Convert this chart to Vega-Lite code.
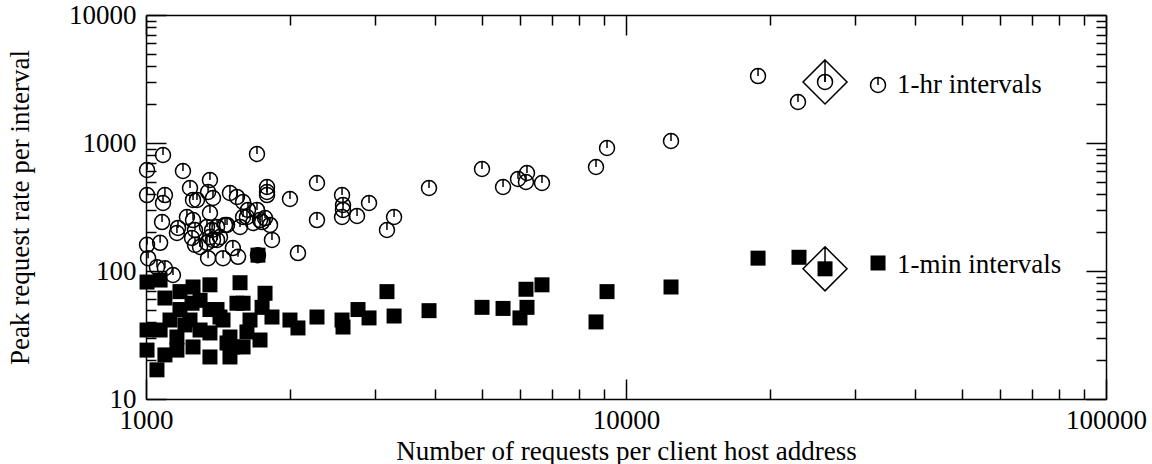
{
  "$schema": "https://vega.github.io/schema/vega-lite/v6.json",
  "width": 960,
  "height": 384,
  "autosize": "none",
  "padding": {"left": 146, "top": 15, "right": 46, "bottom": 65},
  "background": "white",
  "config": {
    "view": {"stroke": null},
    "font": "Liberation Serif",
    "axis": {
      "zindex": 1,
      "grid": false,
      "domainColor": "black",
      "domainWidth": 1.5,
      "tickColor": "black",
      "tickWidth": 1.5,
      "labelColor": "black",
      "labelFont": "Liberation Serif",
      "labelFontSize": 27,
      "labelFlush": false,
      "labelOverlap": false,
      "titleColor": "black",
      "titleFont": "Liberation Serif",
      "titleFontSize": 27,
      "titleFontWeight": "normal"
    }
  },
  "datasets": {
    "hr": [
      {"hosts": 1005, "rate": 615}, {"hosts": 1005, "rate": 392}, {"hosts": 1005, "rate": 160}, {"hosts": 1010, "rate": 126},
      {"hosts": 1054, "rate": 107}, {"hosts": 1095, "rate": 105}, {"hosts": 1138, "rate": 93}, {"hosts": 1070, "rate": 166},
      {"hosts": 1080, "rate": 241}, {"hosts": 1085, "rate": 340}, {"hosts": 1095, "rate": 392}, {"hosts": 1085, "rate": 806},
      {"hosts": 1194, "rate": 604}, {"hosts": 1235, "rate": 445}, {"hosts": 1277, "rate": 359}, {"hosts": 1253, "rate": 359},
      {"hosts": 1359, "rate": 514}, {"hosts": 1347, "rate": 414}, {"hosts": 1379, "rate": 372}, {"hosts": 1496, "rate": 407},
      {"hosts": 1547, "rate": 379}, {"hosts": 1593, "rate": 346}, {"hosts": 1359, "rate": 284}, {"hosts": 1217, "rate": 264},
      {"hosts": 1166, "rate": 217}, {"hosts": 1160, "rate": 198}, {"hosts": 1253, "rate": 250}, {"hosts": 1265, "rate": 209},
      {"hosts": 1247, "rate": 181}, {"hosts": 1265, "rate": 160}, {"hosts": 1340, "rate": 221}, {"hosts": 1373, "rate": 209},
      {"hosts": 1406, "rate": 221}, {"hosts": 1359, "rate": 184}, {"hosts": 1379, "rate": 175}, {"hosts": 1426, "rate": 184},
      {"hosts": 1461, "rate": 229}, {"hosts": 1340, "rate": 166}, {"hosts": 1296, "rate": 154}, {"hosts": 1347, "rate": 126},
      {"hosts": 1447, "rate": 126}, {"hosts": 1517, "rate": 151}, {"hosts": 1555, "rate": 129}, {"hosts": 1703, "rate": 820},
      {"hosts": 1787, "rate": 453}, {"hosts": 1787, "rate": 414}, {"hosts": 1787, "rate": 392}, {"hosts": 1995, "rate": 365},
      {"hosts": 2271, "rate": 487}, {"hosts": 2271, "rate": 250}, {"hosts": 1703, "rate": 300}, {"hosts": 1623, "rate": 264},
      {"hosts": 1728, "rate": 250}, {"hosts": 1770, "rate": 259}, {"hosts": 1813, "rate": 229}, {"hosts": 1671, "rate": 237},
      {"hosts": 1570, "rate": 221}, {"hosts": 1475, "rate": 229}, {"hosts": 1830, "rate": 175}, {"hosts": 2073, "rate": 138},
      {"hosts": 1711, "rate": 133}, {"hosts": 1593, "rate": 264}, {"hosts": 1631, "rate": 300}, {"hosts": 1745, "rate": 241},
      {"hosts": 1406, "rate": 175}, {"hosts": 2561, "rate": 392}, {"hosts": 2573, "rate": 328}, {"hosts": 2573, "rate": 300},
      {"hosts": 2561, "rate": 264}, {"hosts": 2752, "rate": 269}, {"hosts": 2915, "rate": 340}, {"hosts": 3287, "rate": 264},
      {"hosts": 3177, "rate": 209}, {"hosts": 3887, "rate": 445}, {"hosts": 5012, "rate": 626}, {"hosts": 5544, "rate": 453},
      {"hosts": 5957, "rate": 523}, {"hosts": 6219, "rate": 583}, {"hosts": 6189, "rate": 496}, {"hosts": 6683, "rate": 487},
      {"hosts": 8660, "rate": 649}, {"hosts": 9130, "rate": 914}, {"hosts": 12410, "rate": 1037}, {"hosts": 18840, "rate": 3334},
      {"hosts": 22820, "rate": 2090}, {"hosts": 25980, "rate": 3000}
    ],
    "min": [
      {"hosts": 1005, "rate": 82}, {"hosts": 1070, "rate": 85}, {"hosts": 1095, "rate": 61.5}, {"hosts": 1253, "rate": 75},
      {"hosts": 1359, "rate": 78}, {"hosts": 1570, "rate": 81}, {"hosts": 1177, "rate": 69}, {"hosts": 1005, "rate": 34.6},
      {"hosts": 1005, "rate": 24.1}, {"hosts": 1054, "rate": 16.9}, {"hosts": 1095, "rate": 22.1}, {"hosts": 1160, "rate": 24.1},
      {"hosts": 1070, "rate": 34.6}, {"hosts": 1122, "rate": 41.4}, {"hosts": 1177, "rate": 50}, {"hosts": 1235, "rate": 41.4},
      {"hosts": 1253, "rate": 25.5}, {"hosts": 1359, "rate": 50}, {"hosts": 1359, "rate": 32.8}, {"hosts": 1359, "rate": 21.3},
      {"hosts": 1496, "rate": 21.3}, {"hosts": 1447, "rate": 41.4}, {"hosts": 1496, "rate": 30.5}, {"hosts": 1517, "rate": 25.5},
      {"hosts": 1406, "rate": 50}, {"hosts": 1547, "rate": 56}, {"hosts": 1160, "rate": 30.5}, {"hosts": 1247, "rate": 56},
      {"hosts": 1770, "rate": 67}, {"hosts": 1593, "rate": 56}, {"hosts": 1745, "rate": 52}, {"hosts": 1830, "rate": 43.7},
      {"hosts": 1995, "rate": 41.4}, {"hosts": 2073, "rate": 35.9}, {"hosts": 2271, "rate": 43.7}, {"hosts": 1623, "rate": 33.4},
      {"hosts": 1728, "rate": 28.9}, {"hosts": 1593, "rate": 25.5}, {"hosts": 1475, "rate": 27.4}, {"hosts": 1426, "rate": 43.7},
      {"hosts": 1711, "rate": 133}, {"hosts": 2561, "rate": 41.4}, {"hosts": 2573, "rate": 36.5}, {"hosts": 2765, "rate": 50},
      {"hosts": 2915, "rate": 43}, {"hosts": 3287, "rate": 44.5}, {"hosts": 3177, "rate": 69}, {"hosts": 3887, "rate": 49},
      {"hosts": 5012, "rate": 52}, {"hosts": 5544, "rate": 51}, {"hosts": 6189, "rate": 72}, {"hosts": 6219, "rate": 52},
      {"hosts": 6013, "rate": 43}, {"hosts": 6683, "rate": 78}, {"hosts": 9130, "rate": 69}, {"hosts": 8660, "rate": 40},
      {"hosts": 12410, "rate": 75}, {"hosts": 18840, "rate": 126}, {"hosts": 22930, "rate": 128}, {"hosts": 25980, "rate": 104},
      {"hosts": 1296, "rate": 34.6}, {"hosts": 1206, "rate": 37.9}, {"hosts": 1647, "rate": 41.4}, {"hosts": 1296, "rate": 59}
    ],
    "hi": [
      {"hosts": 25980, "rate": 3000}, {"hosts": 25980, "rate": 104}
    ],
    "leg": [
      {"hosts": 33500, "rate": 2838, "textpos": 36700, "textrate": 2838, "series": "hr", "label": "1-hr intervals"},
      {"hosts": 33500, "rate": 115.5, "textpos": 36700, "textrate": 112, "series": "min", "label": "1-min intervals"}
    ]
  },
  "resolve": {"axis": {"x": "independent", "y": "independent"}},
  "layer": [
    {
      "data": {"name": "hr"},
      "mark": {"type": "point", "shape": "M-1,0A1,1,0,1,1,1,0A1,1,0,1,1,-1,0M0,-1L0,0", "filled": false, "stroke": "black", "strokeWidth": 1.5, "size": 225, "opacity": 1},
      "encoding": {
        "x": {"field": "hosts", "type": "quantitative", "scale": {"type": "log", "domain": [1000, 100000], "nice": false},
          "axis": {"orient": "bottom", "title": "Number of requests per client host address",
            "values": [1000, 2000, 3000, 4000, 5000, 6000, 7000, 8000, 9000, 10000, 20000, 30000, 40000, 50000, 60000, 70000, 80000, 90000, 100000],
            "format": "d",
            "labelExpr": "indexof([1000, 10000, 100000], datum.value) >= 0 ? datum.label : ''",
            "tickSize": {"condition": {"test": "indexof([1000, 10000, 100000], datum.value) >= 0", "value": -20}, "value": -10},
            "labelPadding": 28, "titleY": 60, "titleBaseline": "alphabetic"}},
        "y": {"field": "rate", "type": "quantitative", "scale": {"type": "log", "domain": [10, 10000], "nice": false},
          "axis": {"orient": "left", "title": "Peak request rate per interval",
            "values": [10, 20, 30, 40, 50, 60, 70, 80, 90, 100, 200, 300, 400, 500, 600, 700, 800, 900, 1000, 2000, 3000, 4000, 5000, 6000, 7000, 8000, 9000, 10000],
            "format": "d",
            "labelExpr": "indexof([10, 100, 1000, 10000], datum.value) >= 0 ? datum.label : ''",
            "tickSize": {"condition": {"test": "indexof([10, 100, 1000, 10000], datum.value) >= 0", "value": -20}, "value": -10},
            "labelPadding": 30, "titleX": -118, "titleBaseline": "alphabetic"}}
      }
    },
    {
      "data": {"name": "min"},
      "mark": {"type": "point", "shape": "square", "filled": true, "color": "black", "size": 225, "opacity": 1},
      "encoding": {
        "x": {"field": "hosts", "type": "quantitative", "scale": {"type": "log", "domain": [1000, 100000], "nice": false},
          "axis": {"orient": "top", "title": null, "labels": false,
            "values": [1000, 2000, 3000, 4000, 5000, 6000, 7000, 8000, 9000, 10000, 20000, 30000, 40000, 50000, 60000, 70000, 80000, 90000, 100000],
            "tickSize": {"condition": {"test": "indexof([1000, 10000, 100000], datum.value) >= 0", "value": -20}, "value": -10}}},
        "y": {"field": "rate", "type": "quantitative", "scale": {"type": "log", "domain": [10, 10000], "nice": false},
          "axis": {"orient": "right", "title": null, "labels": false,
            "values": [10, 20, 30, 40, 50, 60, 70, 80, 90, 100, 200, 300, 400, 500, 600, 700, 800, 900, 1000, 2000, 3000, 4000, 5000, 6000, 7000, 8000, 9000, 10000],
            "tickSize": {"condition": {"test": "indexof([10, 100, 1000, 10000], datum.value) >= 0", "value": -20}, "value": -10}}}
      }
    },
    {
      "data": {"name": "hi"},
      "mark": {"type": "point", "shape": "M0,-1L1,0L0,1L-1,0ZM0,-1L0,0", "filled": false, "stroke": "black", "strokeWidth": 1.5, "size": 1936, "opacity": 1},
      "encoding": {
        "x": {"field": "hosts", "type": "quantitative", "scale": {"type": "log", "domain": [1000, 100000], "nice": false}, "axis": null},
        "y": {"field": "rate", "type": "quantitative", "scale": {"type": "log", "domain": [10, 10000], "nice": false}, "axis": null}
      }
    },
    {
      "data": {"name": "leg"},
      "transform": [{"filter": "datum.series == 'hr'"}],
      "mark": {"type": "point", "shape": "M-1,0A1,1,0,1,1,1,0A1,1,0,1,1,-1,0M0,-1L0,0", "filled": false, "stroke": "black", "strokeWidth": 1.5, "size": 225, "opacity": 1},
      "encoding": {
        "x": {"field": "hosts", "type": "quantitative", "scale": {"type": "log", "domain": [1000, 100000], "nice": false}, "axis": null},
        "y": {"field": "rate", "type": "quantitative", "scale": {"type": "log", "domain": [10, 10000], "nice": false}, "axis": null}
      }
    },
    {
      "data": {"name": "leg"},
      "transform": [{"filter": "datum.series == 'min'"}],
      "mark": {"type": "point", "shape": "square", "filled": true, "color": "black", "size": 225, "opacity": 1},
      "encoding": {
        "x": {"field": "hosts", "type": "quantitative", "scale": {"type": "log", "domain": [1000, 100000], "nice": false}, "axis": null},
        "y": {"field": "rate", "type": "quantitative", "scale": {"type": "log", "domain": [10, 10000], "nice": false}, "axis": null}
      }
    },
    {
      "data": {"name": "leg"},
      "mark": {"type": "text", "align": "left", "baseline": "middle", "font": "Liberation Serif", "fontSize": 27, "color": "black"},
      "encoding": {
        "x": {"field": "textpos", "type": "quantitative", "scale": {"type": "log", "domain": [1000, 100000], "nice": false}, "axis": null},
        "y": {"field": "textrate", "type": "quantitative", "scale": {"type": "log", "domain": [10, 10000], "nice": false}, "axis": null},
        "text": {"field": "label", "type": "nominal"}
      }
    }
  ]
}
